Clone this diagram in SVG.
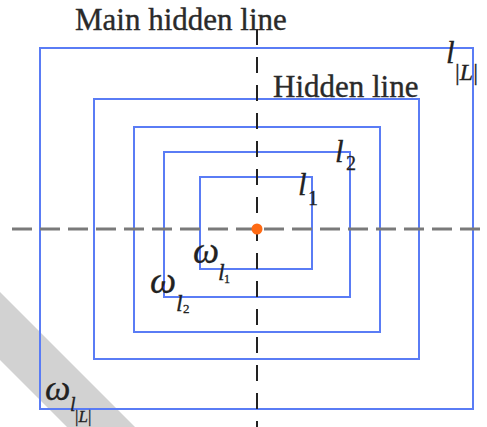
<svg xmlns="http://www.w3.org/2000/svg" width="487" height="427" viewBox="0 0 487 427">
<style>
.box{fill:none;stroke:#5a7cf5;stroke-width:2}
.t{fill:#2a2a2a;stroke:#2a2a2a;stroke-width:0.35}
.m{fill:#222;font-style:italic;stroke:#222;stroke-width:0.3}
.r{fill:#222;stroke:#222;stroke-width:0.3}
</style>
<rect width="487" height="427" fill="#fff"/>
<polygon points="0,292 135,427 67,427 0,360" fill="#d2d2d2"/>
<g id="box-L"><rect class="box" x="40" y="48" width="433" height="361"/></g>
<g id="box-4"><rect class="box" x="94" y="99" width="325" height="260"/></g>
<g id="box-3"><rect class="box" x="134" y="127" width="246" height="205"/></g>
<g id="box-2"><rect class="box" x="164" y="152" width="186" height="145"/></g>
<g id="box-1"><rect class="box" x="200" y="177" width="112" height="92"/></g>
<g id="connectors">
<line x1="12" y1="229" x2="487" y2="229" stroke="#7a7a7a" stroke-width="3" stroke-dasharray="20 8"/>
<line x1="257" y1="29" x2="257" y2="427" stroke="#222" stroke-width="2" stroke-dasharray="16 12"/>
</g>
<g id="center"><circle cx="257" cy="229" r="5.5" fill="#ff6a13"/></g>
<g id="labels" font-family="'Liberation Serif', 'Times New Roman', 'DejaVu Serif', serif">
<text class="t" x="75" y="30" font-size="31">Main hidden line</text>
<text class="t" x="273" y="97" font-size="31">Hidden line</text>
<text class="m" x="446" y="63" font-size="31">l</text>
<text class="r" x="455" y="80" font-size="24">|<tspan font-style="italic">L</tspan>|</text>
<text class="m" x="335" y="162" font-size="31">l</text>
<text class="r" x="346" y="170" font-size="20">2</text>
<text class="m" x="298" y="195" font-size="31">l</text>
<text class="r" x="308" y="205" font-size="20">1</text>
<text class="m" x="193" y="263" font-size="37">ω</text>
<text class="m" x="218" y="280" font-size="24">l</text>
<text class="r" x="224" y="283" font-size="12">1</text>
<text class="m" x="150" y="293" font-size="37">ω</text>
<text class="m" x="176" y="311" font-size="24">l</text>
<text class="r" x="183" y="313" font-size="13">2</text>
<text class="m" x="45" y="400" font-size="36">ω</text>
<text class="m" x="70" y="411" font-size="20">l</text>
<text class="r" x="75" y="422" font-size="17">|<tspan font-style="italic">L</tspan>|</text>
</g>
</svg>
